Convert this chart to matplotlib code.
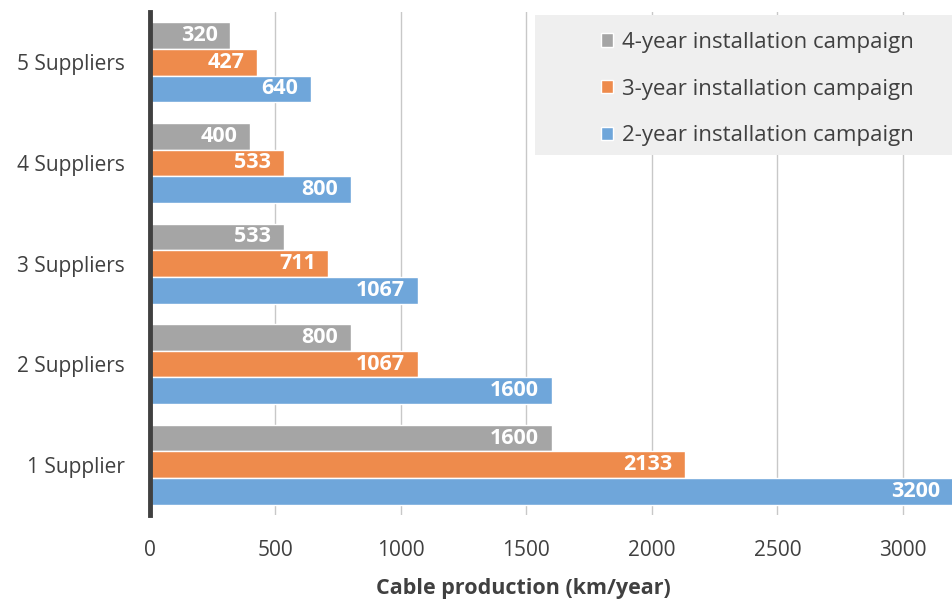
import matplotlib
matplotlib.use('Agg')

import numpy as np
import matplotlib.pyplot as plt
from matplotlib.patches import Rectangle

plt.rcParams['font.family'] = ['Open Sans', 'DejaVu Sans']

suppliers = ["1 Supplier", "2 Suppliers", "3 Suppliers", "4 Suppliers", "5 Suppliers"]
campaign_4yr = [1600, 800, 533, 400, 320]
campaign_3yr = [2133, 1067, 711, 533, 427]
campaign_2yr = [3200, 1600, 1067, 800, 640]

series = [
    ("4-year installation campaign", campaign_4yr, "#A5A5A5"),
    ("3-year installation campaign", campaign_3yr, "#EE8B4C"),
    ("2-year installation campaign", campaign_2yr, "#6FA6DA"),
]

fig = plt.figure(figsize=(9.53, 6.01), dpi=100)
ax = fig.add_axes([0.1574, 0.143, 0.8426, 0.837])

y = np.arange(1, len(suppliers) + 1)
bar_h = 0.265
offsets = [bar_h, 0, -bar_h]

handles = []
for (label, vals, color), off in zip(series, offsets):
    bars = ax.barh(y + off, vals, height=bar_h, color=color, edgecolor="white",
                   linewidth=1, label=label, zorder=3)
    handles.append(bars)
    for b, v in zip(bars, vals):
        ax.text(v - 50, b.get_y() + b.get_height() / 2, str(v), ha="right", va="center",
                color="white", fontsize=15.5, fontweight="bold", zorder=4)

ax.set_xlim(0, 3200)
ax.set_ylim(0.5, 5.5)
ax.set_xticks(np.arange(0, 3001, 500))
ax.set_yticks(y)
ax.set_yticklabels(suppliers)
ax.tick_params(axis="both", length=0, labelsize=15, colors="#404040")
ax.tick_params(axis="x", pad=18)
ax.tick_params(axis="y", pad=18)
ax.grid(axis="x", color="#C8C8C8", linewidth=1, zorder=0)
ax.set_axisbelow(True)

for s in ("top", "right", "bottom"):
    ax.spines[s].set_visible(False)
ax.spines["left"].set_linewidth(3.5)
ax.spines["left"].set_color("#404040")
ax.spines["left"].set_zorder(5)

ax.set_xlabel("Cable production (km/year)", fontsize=15.5, fontweight="bold", color="#404040")
ax.xaxis.set_label_coords((523 - 150) / 803, -0.125)

# shaded legend panel in the upper right
ax_h = 503.0
ax.add_patch(Rectangle(((535 - 150) / 803, (515 - 155) / ax_h), 1 - (535 - 150) / 803,
                       140 / ax_h, transform=ax.transAxes, facecolor="#EFEFEF",
                       edgecolor="none", zorder=5))

leg = ax.legend(handles=handles, loc="center",
                bbox_to_anchor=((757 - 150) / 803, (515 - 89) / ax_h),
                fontsize=16, frameon=False, handlelength=0.55,
                handleheight=0.55, handletextpad=0.4, labelspacing=1.15,
                borderpad=0)
leg.set_zorder(6)
for t in leg.get_texts():
    t.set_color("#404040")

plt.savefig("out.png", dpi=100)
plt.close()
